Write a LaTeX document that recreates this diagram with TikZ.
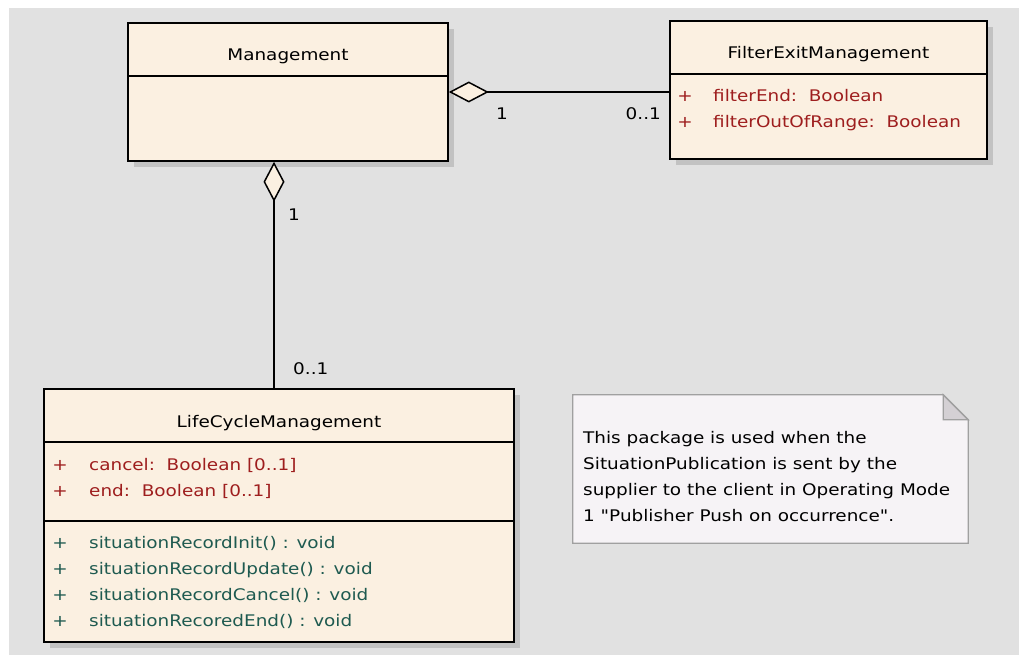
\documentclass[tikz,border=0pt]{standalone}
\usepackage{fontspec}
\setmainfont{DejaVu Sans}[FakeStretch=1.15]
\newfontfamily\notefont{DejaVu Sans}[FakeStretch=1.15]
\usepackage{xcolor}
\usetikzlibrary{arrows.meta,positioning,shadows}

\definecolor{bggray}{HTML}{E1E1E1}
\definecolor{cream}{HTML}{FBF0E1}
\definecolor{shadowgray}{HTML}{C2C2C2}
\definecolor{attrred}{HTML}{9E1E1E}
\definecolor{opteal}{HTML}{1E5A50}
\definecolor{notefill}{HTML}{F6F3F6}
\definecolor{noteline}{HTML}{A0A0A0}
\definecolor{foldfill}{HTML}{D4D0D4}

\begin{document}
\begin{tikzpicture}[x=1pt, y=-1pt,
    classbox/.style={rectangle, draw, line width=1.6pt, fill=cream, inner sep=0pt,
        drop shadow={shadow xshift=6pt, shadow yshift=-6pt, fill=shadowgray, opacity=1}},
    divider/.style={line width=1.5pt},
    clsname/.style={anchor=base, inner sep=0pt, font=\fontsize{16}{19}\selectfont},
    attr/.style={anchor=base west, inner sep=0pt, text=attrred, font=\fontsize{16}{19}\selectfont},
    oper/.style={anchor=base west, inner sep=0pt, text=opteal, font=\fontsize{16}{19}\selectfont},
    mult/.style={inner sep=0pt, font=\fontsize{16}{19}\selectfont},
    aggr/.style={{Diamond[length=40pt, width=21pt, fill=cream]}-, line width=1.5pt, line join=miter},
    notebox/.style={rectangle, inner sep=0pt}
]
    \useasboundingbox (0,0) rectangle (1019,655);
    \fill[bggray] (9,8) rectangle (1019,655);

    % Management class
    \node[classbox, minimum width=320pt, minimum height=138pt] (mgmt) at (288,92) {};
    \draw[divider] ([yshift=-54pt]mgmt.north west) -- ([yshift=-54pt]mgmt.north east);
    \node[clsname] (mgmtname) at (288,61) {Management};

    % FilterExitManagement class
    \node[classbox, minimum width=317pt, minimum height=138pt] (filter) at (828.5,90) {};
    \draw[divider] ([yshift=-54pt]filter.north west) -- ([yshift=-54pt]filter.north east);
    \node[clsname] (filtername) at (828.5,59) {FilterExitManagement};
    \node[attr, anchor=base] (fplus1) at (685,102) {+};
    \node[attr] (fattr1) at (713,102) {filterEnd:~~Boolean};
    \node[attr, anchor=base] (fplus2) at (685,128) {+};
    \node[attr] (fattr2) at (713,128) {filterOutOfRange:~~Boolean};

    % LifeCycleManagement class
    \node[classbox, minimum width=470pt, minimum height=253pt] (lcm) at (279,515.5) {};
    \draw[divider] ([yshift=-54pt]lcm.north west) -- ([yshift=-54pt]lcm.north east);
    \draw[divider] ([yshift=-133pt]lcm.north west) -- ([yshift=-133pt]lcm.north east);
    \node[clsname] (lcmname) at (279,427) {LifeCycleManagement};
    \node[attr, anchor=base] (lplus1) at (60,470) {+};
    \node[attr] (lattr1) at (89,470) {cancel:~~Boolean [0..1]};
    \node[attr, anchor=base] (lplus2) at (60,496) {+};
    \node[attr] (lattr2) at (89,496) {end:~~Boolean [0..1]};
    \node[oper, anchor=base] (oplus1) at (60,548) {+};
    \node[oper] (op1) at (89,548) {situationRecordInit() : void};
    \node[oper, anchor=base] (oplus2) at (60,574) {+};
    \node[oper] (op2) at (89,574) {situationRecordUpdate() : void};
    \node[oper, anchor=base] (oplus3) at (60,600) {+};
    \node[oper] (op3) at (89,600) {situationRecordCancel() : void};
    \node[oper, anchor=base] (oplus4) at (60,626) {+};
    \node[oper] (op4) at (89,626) {situationRecoredEnd() : void};

    % Note
    \node[notebox, minimum width=395pt, minimum height=148pt] (note) at (770.5,469) {};
    \draw[line width=1.3pt, draw=noteline, fill=notefill]
        (note.south west) |- ([xshift=-25pt]note.north east)
        -- ([yshift=-25pt]note.north east) -- (note.south east) -- cycle;
    \draw[line width=1.3pt, draw=noteline, fill=foldfill]
        ([xshift=-25pt]note.north east) |- ([yshift=-25pt]note.north east) -- cycle;
    \node[anchor=north west, inner sep=0pt, align=left, font=\notefont\fontsize{16}{26}\selectfont] (notetext) at (583,431)
        {This package is used when the\\SituationPublication is sent by the\\supplier to the client in Operating Mode\\1 "Publisher Push on occurrence".};

    % Aggregations
    \draw[aggr] (mgmt.east) -- (mgmt.east -| filter.west);
    \node[mult, anchor=base] (m1) at (502,120) {1};
    \node[mult, anchor=base east] (m2) at (661,120) {0..1};

    \coordinate (lcmjoin) at ([xshift=-5pt]lcm.north);
    \draw[aggr] (mgmt.south -| lcmjoin) -- (lcmjoin);
    \node[mult, anchor=base west] (m3) at (288,220) {1};
    \node[mult, anchor=base west] (m4) at (293,374) {0..1};
\end{tikzpicture}
\end{document}
